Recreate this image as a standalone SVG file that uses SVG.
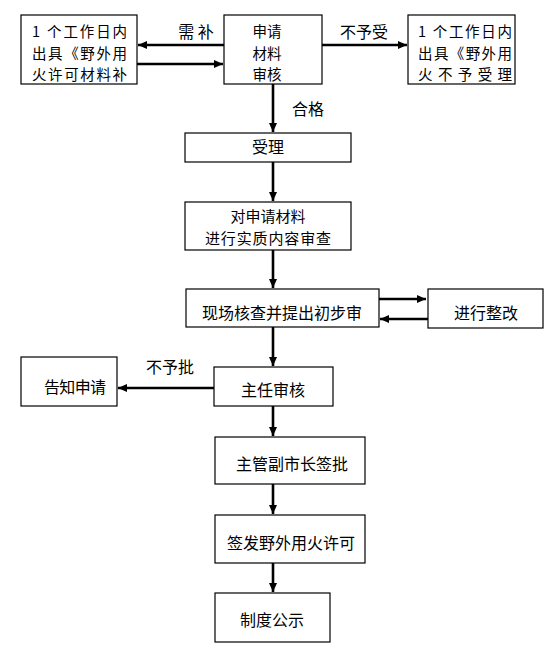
<svg xmlns="http://www.w3.org/2000/svg" width="555" height="650" viewBox="0 0 555 650">
<style>
.box{fill:#fff;stroke:#000;stroke-width:1.2}
text{font-family:"Noto Sans CJK SC","Noto Sans",sans-serif;font-size:16px;fill:#000}
.s{font-size:14.5px}
.t{font-size:15px}
.m{text-anchor:middle}
.c{stroke:#000;stroke-width:2.6;fill:none;marker-end:url(#ah)}
</style>
<defs>
<marker id="ah" markerUnits="userSpaceOnUse" markerWidth="10" markerHeight="8" refX="9" refY="4" orient="auto">
<path d="M0,0 L9,4 L0,8 z" fill="#000"/>
</marker>
</defs>
<rect width="555" height="650" fill="#fff"/>
<g id="connectors">
<line class="c" x1="224" y1="45" x2="138" y2="45"/>
<line class="c" x1="137" y1="64" x2="223" y2="64"/>
<line class="c" x1="322" y1="45" x2="407" y2="45"/>
<line class="c" x1="273" y1="84" x2="273" y2="132"/>
<line class="c" x1="273" y1="162" x2="273" y2="201"/>
<line class="c" x1="273" y1="250" x2="273" y2="288"/>
<line class="c" x1="379" y1="299" x2="426" y2="299"/>
<line class="c" x1="428" y1="319" x2="380" y2="319"/>
<line class="c" x1="273" y1="327" x2="273" y2="366"/>
<line class="c" x1="214" y1="388" x2="118" y2="388"/>
<line class="c" x1="273" y1="406" x2="273" y2="436"/>
<line class="c" x1="273" y1="484" x2="273" y2="514"/>
<line class="c" x1="273" y1="563" x2="273" y2="592"/>
<text class="m" x="196" y="38">需 补</text>
<text class="m" x="364" y="38">不予受</text>
<text class="m" x="308" y="115">合格</text>
<text class="m" x="170" y="373">不予批</text>
</g>
<g id="n-supp">
<rect class="box" x="21" y="15" width="116" height="69"/>
<text class="s" x="32" y="37" textLength="95">1 个工作日内</text>
<text class="s" x="32" y="58.5" textLength="95">出具《野外用</text>
<text class="s" x="32" y="80" textLength="95">火许可材料补</text>
</g>
<g id="n-review">
<rect class="box" x="224" y="15" width="98" height="69"/>
<text class="s m" x="267" y="37">申请</text>
<text class="s m" x="267" y="58.5">材料</text>
<text class="s m" x="267" y="80">审核</text>
</g>
<g id="n-reject">
<rect class="box" x="408" y="15" width="107" height="69"/>
<text class="s" x="418" y="37" textLength="94">1 个工作日内</text>
<text class="s" x="418" y="58.5" textLength="94">出具《野外用</text>
<text class="s" x="418" y="80" textLength="94">火 不 予 受 理</text>
</g>
<g id="n-accept">
<rect class="box" x="185" y="133" width="166" height="29"/>
<text class="m" x="268" y="153">受理</text>
</g>
<g id="n-substance">
<rect class="box" x="185" y="202" width="166" height="48"/>
<text class="t m" x="268" y="222">对申请材料</text>
<text class="t m" x="268" y="244" textLength="126">进行实质内容审查</text>
</g>
<g id="n-site">
<rect class="box" x="186" y="289" width="193" height="38"/>
<text class="m" x="282" y="319">现场核查并提出初步审</text>
</g>
<g id="n-fix">
<rect class="box" x="428" y="289" width="115" height="39"/>
<text class="m" x="486" y="319">进行整改</text>
</g>
<g id="n-director">
<rect class="box" x="214" y="367" width="119" height="39"/>
<text class="m" x="273" y="396">主任审核</text>
</g>
<g id="n-notify">
<rect class="box" x="21" y="357" width="96" height="49"/>
<text class="m" x="75" y="393" textLength="62">告知申请</text>
</g>
<g id="n-mayor">
<rect class="box" x="215" y="437" width="150" height="47"/>
<text class="m" x="292" y="470">主管副市长签批</text>
</g>
<g id="n-issue">
<rect class="box" x="215" y="515" width="150" height="48"/>
<text class="m" x="291" y="549">签发野外用火许可</text>
</g>
<g id="n-publish">
<rect class="box" x="215" y="593" width="115" height="49"/>
<text class="m" x="272" y="626">制度公示</text>
</g>
</svg>
